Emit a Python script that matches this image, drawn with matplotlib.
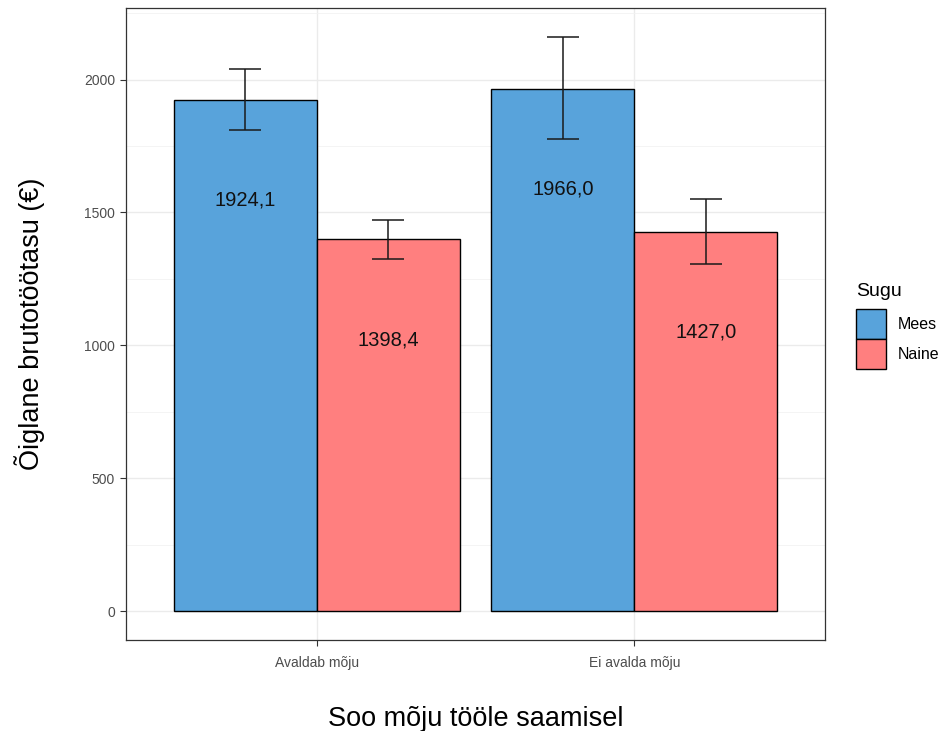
import numpy as np
import matplotlib

matplotlib.use("Agg")
import matplotlib.pyplot as plt
from matplotlib.patches import Patch

plt.rcParams["font.family"] = ["Liberation Sans", "DejaVu Sans"]

categories = ["Avaldab mõju", "Ei avalda mõju"]
groups = ["Mees", "Naine"]
means = {
    "Mees": [1924.1, 1966.0],
    "Naine": [1398.4, 1427.0],
}
lower = {
    "Mees": [1809, 1775],
    "Naine": [1326, 1305],
}
upper = {
    "Mees": [2041, 2161],
    "Naine": [1471, 1550],
}
colors = {"Mees": "#58A3DB", "Naine": "#FF7F7F"}
yticks = [0, 500, 1000, 1500, 2000]

LABEL_DROP = 378

fig = plt.figure(figsize=(9.46, 7.31), dpi=100)
ax = fig.add_axes([126 / 946, 91 / 731, 699 / 946, 632 / 731])

x = np.arange(1, len(categories) + 1)
width = 0.45
for i, g in enumerate(groups):
    xs = x + (i - 0.5) * width
    m = np.array(means[g])
    ax.bar(xs, m, width=width, color=colors[g], edgecolor="black",
           linewidth=1.0, zorder=2, label=g)
    err = [m - np.array(lower[g]), np.array(upper[g]) - m]
    ax.errorbar(xs, m, yerr=err, fmt="none", ecolor="#1a1a1a",
                elinewidth=1.1, capsize=11.5, capthick=1.1, zorder=3)
    for xi, v in zip(xs, m):
        ax.text(xi, v - LABEL_DROP, f"{v:.1f}".replace(".", ","),
                ha="center", va="center", fontsize=14.5, color="#111111", zorder=4)

ax.set_xlim(0.4, 2.6)
ax.set_ylim(-108, 2269)
ax.set_xticks(x)
ax.set_xticklabels(categories)
ax.set_yticks(yticks)
ax.set_yticks([250, 750, 1250, 1750, 2250], minor=True)
ax.tick_params(axis="y", which="minor", length=0)
ax.tick_params(which="major", length=4.5, width=0.8, color="#333333",
               labelcolor="#4D4D4D", labelsize=10)
ax.tick_params(axis="x", pad=7)
ax.grid(True, which="major", color="#EBEBEB", linewidth=1.0, zorder=0)
ax.grid(True, which="minor", axis="y", color="#F2F2F2", linewidth=0.6, zorder=0)
ax.set_axisbelow(True)
for s in ax.spines.values():
    s.set_color("#333333")
    s.set_linewidth(0.9)

ax.set_xlabel("Soo mõju tööle saamisel", fontsize=19.5, labelpad=26)
ax.set_ylabel("Õiglane brutotöötasu (€)", fontsize=19.5, labelpad=28)

# legend: title as separate text so the gap above the keys matches
fig.text(856 / 946, 1 - 291 / 731, "Sugu", fontsize=14, ha="left", va="center")
handles = [Patch(facecolor=colors[g], edgecolor="black", linewidth=1.0, label=g)
           for g in groups]
leg = fig.legend(handles=handles, loc="upper left",
                 bbox_to_anchor=(856 / 946, 1 - 309 / 731), frameon=False,
                 fontsize=11.5, handlelength=1.88,
                 handleheight=2.51, labelspacing=0.0, handletextpad=0.75,
                 borderaxespad=0, borderpad=0)

fig.savefig("out.png", dpi=100)
